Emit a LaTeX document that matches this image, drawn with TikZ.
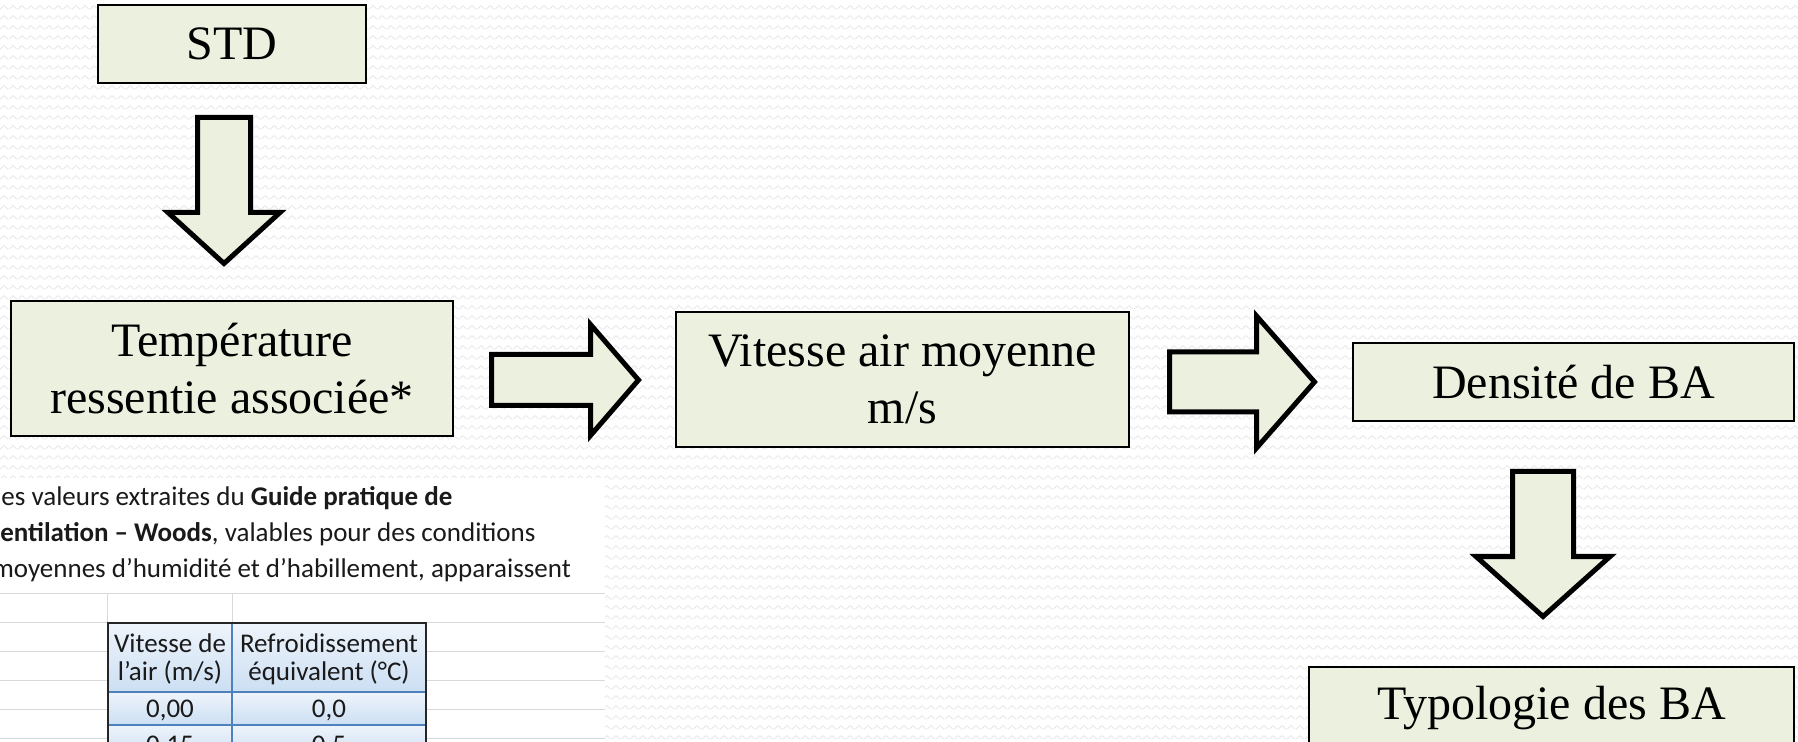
\documentclass[tikz,border=0pt]{standalone}
\usepackage{fontspec}
\setmainfont{Liberation Serif}
\newfontfamily\carlito{Carlito}
\usetikzlibrary{patterns}
\pgfdeclarepatternformonly{bgwaves}{\pgfpointorigin}{\pgfpoint{4.25pt}{5pt}}{\pgfpoint{4.25pt}{5pt}}{%
  \pgfsetlinewidth{0.45pt}%
  \pgfpathmoveto{\pgfpoint{0pt}{1.5pt}}%
  \pgfpathcurveto{\pgfpoint{1pt}{1.5pt}}{\pgfpoint{1.1pt}{3.5pt}}{\pgfpoint{2.125pt}{3.5pt}}%
  \pgfpathcurveto{\pgfpoint{3.15pt}{3.5pt}}{\pgfpoint{3.25pt}{1.5pt}}{\pgfpoint{4.25pt}{1.5pt}}%
  \pgfusepath{stroke}%
}
\definecolor{boxfill}{HTML}{EBF1DE}
\definecolor{wavec}{HTML}{E8E8E8}
\definecolor{gridc}{HTML}{D9D9D9}
\definecolor{tabline}{HTML}{4F81BD}
\definecolor{celltop}{HTML}{EEF4FB}
\definecolor{cellbot}{HTML}{CCDFF3}
\definecolor{shot}{HTML}{1A1A1A}
\begin{document}
\begin{tikzpicture}[x=0.5pt,y=-0.5pt,
  box/.style={draw=black, line width=0.75pt, fill=boxfill, inner sep=0pt, align=center,
    font=\fontsize{24pt}{28.8pt}\selectfont},
  blockarrow/.style={draw=black, line width=2.5pt, fill=boxfill, line join=miter, miter limit=10},
  shottext/.style={anchor=base west, inner sep=0pt, text=shot, font=\carlito\fontsize{13.5pt}{14pt}\selectfont},
  celltext/.style={anchor=base, inner sep=0pt, text=shot, font=\carlito\fontsize{13.5pt}{14pt}\selectfont},
  gridline/.style={draw=gridc, line width=0.5pt},
  cell/.style={top color=celltop, bottom color=cellbot}
]
\useasboundingbox (0,0) rectangle (1798,742);
\clip (0,0) rectangle (1798,742);
% background
\fill[white] (0,0) rectangle (1798,742);
\fill[pattern=bgwaves, pattern color=wavec] (0,0) rectangle (1798,742);

% pasted screenshot (lower left)
\begin{scope}
\clip (0,478) rectangle (605,742);
\fill[white] (0,478) rectangle (605,742);
\foreach \yy in {593,622,651,680,709,738} \draw[gridline] (0,\yy) -- (605,\yy);
\draw[gridline] (107,593) -- (107,742);
\draw[gridline] (232,593) -- (232,742);
\node[shottext] (l1) at (1,506) {es valeurs extraites du \textbf{Guide pratique de}};
\node[shottext] (l2) at (0,542) {\textbf{entilation – Woods}, valables pour des conditions};
\node[shottext] (l3) at (-8,577) {moyennes d’humidité et d’habillement, apparaissent};
% table
\shade[cell] (108,623) rectangle (232,692);
\shade[cell] (232,623) rectangle (426,692);
\shade[cell] (108,692) rectangle (232,725);
\shade[cell] (232,692) rectangle (426,725);
\shade[cell] (108,725) rectangle (232,758);
\shade[cell] (232,725) rectangle (426,758);
\draw[tabline, line width=1pt] (232,623) -- (232,758);
\draw[tabline, line width=1pt] (108,692) -- (426,692);
\draw[tabline, line width=1pt] (108,725) -- (426,725);
\draw[black!85, line width=1.2pt] (108,760) -- (108,623) -- (426,623) -- (426,760);
\node[celltext] (h1a) at (170,652) {Vitesse de};
\node[celltext] (h1b) at (170,680) {l’air (m/s)};
\node[celltext] (h2a) at (329,652) {Refroidissement};
\node[celltext] (h2b) at (329,680) {équivalent (°C)};
\node[celltext] (r1a) at (170,717) {0,00};
\node[celltext] (r1b) at (329,717) {0,0};
\node[celltext] (r2a) at (170,753) {0,15};
\node[celltext] (r2b) at (329,753) {0,5};
\end{scope}

% boxes
\node[box, minimum width=134pt, minimum height=39pt] (std) at (232,44) {STD};
\node[box, minimum width=221pt, minimum height=67.5pt] (temp) at (232,368.5) {Température\\ressentie associée*};
\node[box, minimum width=226.5pt, minimum height=67.5pt] (vit) at (902.5,379.5) {Vitesse air moyenne\\m/s};
\node[box, minimum width=220.5pt, minimum height=39pt] (dens) at (1573.5,382) {Densité de BA};
\node[box, minimum width=242.5pt, minimum height=41.5pt] (typo) at (1551.5,708.5) {Typologie des BA};

% block arrows
\draw[blockarrow] (197.5,117.5) -- (250.5,117.5) -- (250.5,212.5) -- (280,212.5) -- (224,263.5) -- (168,212.5) -- (197.5,212.5) -- cycle;
\draw[blockarrow] (491.5,354.5) -- (590.5,354.5) -- (590.5,324.5) -- (638.5,380) -- (590.5,435.5) -- (590.5,405.5) -- (491.5,405.5) -- cycle;
\draw[blockarrow] (1169.5,352) -- (1256.5,352) -- (1256.5,316) -- (1314.5,382) -- (1256.5,448) -- (1256.5,412) -- (1169.5,412) -- cycle;
\draw[blockarrow] (1512.5,471.5) -- (1573.5,471.5) -- (1573.5,556.5) -- (1610,556.5) -- (1543,616.5) -- (1476,556.5) -- (1512.5,556.5) -- cycle;
\end{tikzpicture}
\end{document}
